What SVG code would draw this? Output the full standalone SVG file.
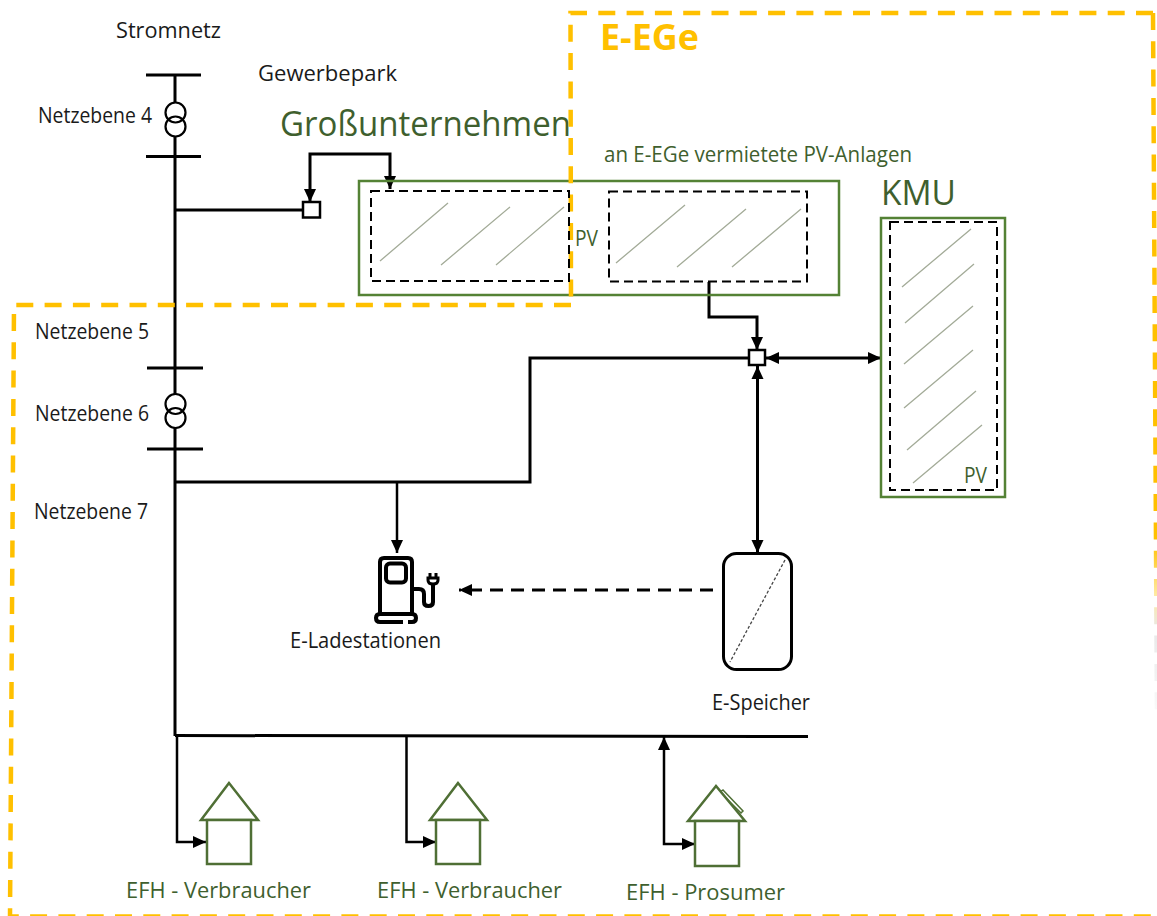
<svg xmlns="http://www.w3.org/2000/svg" width="1157" height="916" viewBox="0 0 1157 916">
<style>
text{font-family:"Open Sans","Liberation Sans",sans-serif}
.k{font-size:21px;fill:#1a1a1a}
.g{font-size:21px;fill:#3f5f2e}
.t{font-size:35px;fill:#3f5f2e}
.c{fill:none;stroke:#000;stroke-width:3}
.c2{fill:none;stroke:#000;stroke-width:2.5}
.box{fill:none;stroke:#548235;stroke-width:2.5}
.pv{fill:none;stroke:#000;stroke-width:2;stroke-dasharray:9 5}
.d{stroke:#a3ab98;stroke-width:1.3;fill:none}
.or{fill:none;stroke:#ffc000;stroke-width:4.500;stroke-dasharray:17 11.300}
.h{fill:#fff;stroke:#4f6f35;stroke-width:2.5}
.n{fill:#fff;stroke:#000;stroke-width:2.500}
.ic{fill:none;stroke:#000;stroke-width:4}
.tr{fill:none;stroke:#000;stroke-width:2.200}
</style>
<defs>
<marker id="a" markerUnits="userSpaceOnUse" markerWidth="15" markerHeight="15" refX="13" refY="7.500" orient="auto-start-reverse"><path d="M0 1.500L13 7.500L0 13.500Z" fill="#000"/></marker>
<linearGradient id="fade" gradientUnits="userSpaceOnUse" x1="0" y1="540" x2="0" y2="720"><stop offset="0" stop-color="#ffc000"/><stop offset="0.3" stop-color="#ffe9a0"/><stop offset="0.5" stop-color="#e8e8e8"/><stop offset="1" stop-color="#fbfbfb"/></linearGradient>
</defs>
<g id="connectors">
<path class="c" d="M175 75V102M175 137V394"/>
<path class="c" d="M175 428V736"/>
<path class="c" d="M146 75H201M146 156.500H201M147 368H203M147 449H203"/>
<path class="c" d="M175 210H302"/>
<path class="c" marker-start="url(#a)" marker-end="url(#a)" d="M310 202V154H390V189"/>
<path class="c" marker-end="url(#a)" d="M709 282V317H757V350"/>
<path class="c" d="M175 482H530V358H749"/>
<path class="c2" marker-end="url(#a)" d="M397 482V553"/>
<path class="c" marker-start="url(#a)" marker-end="url(#a)" d="M766 358H881"/>
<path class="c" marker-start="url(#a)" marker-end="url(#a)" d="M757.500 366V553"/>
<path class="c" stroke-dasharray="13 8" marker-end="url(#a)" d="M713 590H459"/>
<path class="c" d="M175 735.500L808 736.500"/>
<path class="c2" marker-end="url(#a)" d="M177 736V842H206"/>
<path class="c2" marker-end="url(#a)" d="M406.500 736V842H436"/>
<path class="c2" marker-start="url(#a)" marker-end="url(#a)" d="M664 737V844H695"/>
</g>
<g id="trafo-4">
<circle class="tr" cx="175.500" cy="112.500" r="10"/>
<circle class="tr" cx="175.500" cy="126.500" r="10"/>
</g>
<g id="trafo-6">
<circle class="tr" cx="175.500" cy="404" r="10"/>
<circle class="tr" cx="175.500" cy="418" r="10"/>
</g>
<g id="labels-grid">
<text class="k" x="116" y="38" textLength="105" lengthAdjust="spacingAndGlyphs">Stromnetz</text>
<text class="k" x="258" y="81" textLength="139" lengthAdjust="spacingAndGlyphs">Gewerbepark</text>
<text class="k" x="38" y="123" textLength="114" lengthAdjust="spacingAndGlyphs">Netzebene 4</text>
<text class="k" x="35" y="339" textLength="114" lengthAdjust="spacingAndGlyphs">Netzebene 5</text>
<text class="k" x="35" y="421" textLength="114" lengthAdjust="spacingAndGlyphs">Netzebene 6</text>
<text class="k" x="34" y="519" textLength="114" lengthAdjust="spacingAndGlyphs">Netzebene 7</text>
</g>
<g id="junction-1"><rect class="n" x="303" y="202" width="17" height="15.500"/></g>
<g id="junction-2"><rect class="n" x="749" y="350" width="16" height="15"/></g>
<g id="pv-frame">
<text class="t" x="280" y="136" textLength="291" lengthAdjust="spacingAndGlyphs">Großunternehmen</text>
<rect class="box" x="359" y="181" width="480" height="114"/>
</g>
<g id="region-ege">
<path class="or" d="M1153 13H570.500L571 305"/>
<path class="or" style="stroke:url(#fade)" d="M1153 13L1157 720"/>
<text x="600" y="50" style="font-size:36px;font-weight:700;fill:#ffc000" textLength="99" lengthAdjust="spacingAndGlyphs">E-EGe</text>
</g>
<g id="region-lower">
<path class="or" d="M571 305H14L10 916.500H1157"/>
</g>
<g id="pv-park">
<text class="g" x="604" y="162" textLength="308" lengthAdjust="spacingAndGlyphs">an E-EGe vermietete PV-Anlagen</text>
<rect class="pv" x="371" y="191" width="198" height="90"/>
<rect class="pv" x="609" y="191.500" width="198" height="90"/>
<path class="d" d="M380 261L448 203M441 265L510 207M496 265L564 207M616 263L685 205M677 267L746 209M732 267L801 209"/>
<text class="g" x="575" y="246" textLength="23" lengthAdjust="spacingAndGlyphs">PV</text>
</g>
<g id="kmu">
<text class="t" x="881" y="205" textLength="75" lengthAdjust="spacingAndGlyphs">KMU</text>
<rect class="box" x="881" y="218" width="124" height="279"/>
<rect class="pv" x="890" y="222" width="107" height="268"/>
<path class="d" d="M902 287L971 229M905 323L974 264M904 364L973 306M904 408L973 350M907 450L976 391M913 483L982 425"/>
<text class="g" x="964" y="483" textLength="23" lengthAdjust="spacingAndGlyphs">PV</text>
</g>
<g id="ladestation">
<path class="ic" d="M380 613V562Q380 558 384 558H408Q412 558 412 562V613"/>
<rect class="ic" x="386" y="563.500" width="20" height="19" rx="4"/>
<path class="ic" d="M403 622H380Q376 622 376 618Q376 614 380 614H412Q416 614 416 618Q416 622 412 622H408"/>
<path class="ic" d="M412 589H419Q424 589 424 594V602Q424 606 428.500 606Q433 606 433 602V585"/>
<path d="M428 578H438V580Q438 584 433 584Q428 584 428 580Z" fill="#fff" stroke="#000" stroke-width="3"/>
<path d="M430 578V573M436 578V573" stroke="#000" stroke-width="3"/>
<text class="k" x="290" y="648" textLength="151" lengthAdjust="spacingAndGlyphs">E-Ladestationen</text>
</g>
<g id="speicher">
<rect x="723.500" y="553.500" width="68" height="116" rx="13" fill="#fff" stroke="#000" stroke-width="3"/>
<path d="M785 560L730 662" stroke="#444" stroke-width="1.300" stroke-dasharray="3 2" fill="none"/>
<text class="k" x="712" y="710" textLength="98" lengthAdjust="spacingAndGlyphs">E-Speicher</text>
</g>
<g id="efh-1">
<path class="h" d="M229 783L201 820H258Z"/><rect class="h" x="207" y="820" width="44" height="44"/>
<text class="g" x="126" y="898" textLength="185" lengthAdjust="spacingAndGlyphs">EFH - Verbraucher</text>
</g>
<g id="efh-2">
<path class="h" d="M458 783L430 820H487Z"/><rect class="h" x="436" y="820" width="44" height="44"/>
<text class="g" x="377" y="898" textLength="185" lengthAdjust="spacingAndGlyphs">EFH - Verbraucher</text>
</g>
<g id="efh-3">
<path d="M723 790L743 811L741 813L720 792Z" fill="#fff" stroke="#4f6f35" stroke-width="1.500"/>
<path class="h" d="M716 786L688 821H745Z"/><rect class="h" x="695" y="821" width="44" height="45"/>
<text class="g" x="626" y="900" textLength="159" lengthAdjust="spacingAndGlyphs">EFH - Prosumer</text>
</g>
</svg>
